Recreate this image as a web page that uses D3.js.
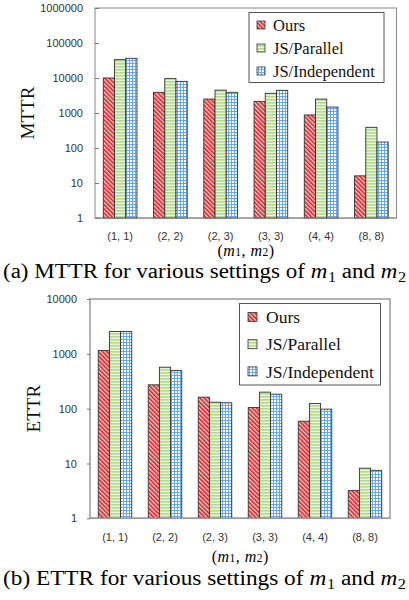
<!DOCTYPE html>
<html><head><meta charset="utf-8">
<script src="https://cdn.jsdelivr.net/npm/d3@7"></script>
<style>
html,body{margin:0;padding:0;background:#fff;}
svg{display:block;}
.serif{font-family:"Liberation Serif","Times New Roman",serif;}
.sans{font-family:"Liberation Sans",Arial,sans-serif;}
</style></head>
<body>
<svg id="c" width="409" height="600"></svg>
<script>
const categories = ["(1, 1)", "(2, 2)", "(2, 3)", "(3, 3)", "(4, 4)", "(8, 8)"];
const seriesNames = ["Ours", "JS/Parallel", "JS/Independent"];
const mttrOurs = [10000, 3900, 2500, 2150, 880, 16];
const mttrParallel = [33500, 9600, 4500, 3650, 2500, 390];
const mttrIndependent = [36500, 8000, 3900, 4450, 1480, 148];
const ettrOurs = [1150, 272, 162, 105, 59, 3.2];
const ettrParallel = [2550, 570, 131, 200, 124, 8.2];
const ettrIndependent = [2550, 495, 128, 184, 98, 7.5];
const mttrTicks = [1, 10, 100, 1000, 10000, 100000, 1000000];
const ettrTicks = [1, 10, 100, 1000, 10000];

const svg = d3.select("#c");
const defs = svg.append("defs");
const pr = defs.append("pattern").attr("id","pRed").attr("patternUnits","userSpaceOnUse")
  .attr("width",3).attr("height",3).attr("patternTransform","rotate(-45)");
pr.append("rect").attr("width",3).attr("height",3).attr("fill","#f7d4d4");
pr.append("rect").attr("width",1.7).attr("height",3).attr("fill","#d9252b");
const pg = defs.append("pattern").attr("id","pGreen").attr("patternUnits","userSpaceOnUse")
  .attr("width",3).attr("height",3);
pg.append("rect").attr("width",3).attr("height",3).attr("fill","#e9f4dc");
pg.append("rect").attr("width",3).attr("height",1.6).attr("fill","#b5d98a");
const pb = defs.append("pattern").attr("id","pBlue").attr("patternUnits","userSpaceOnUse")
  .attr("width",3).attr("height",3);
pb.append("rect").attr("width",3).attr("height",3).attr("fill","#ffffff");
pb.append("rect").attr("width",3).attr("height",1).attr("fill","#63a8f2");
pb.append("rect").attr("width",1).attr("height",3).attr("fill","#63a8f2");
const fills = ["url(#pRed)","url(#pGreen)","url(#pBlue)"];

// one text element, tspans at explicit measured x positions; p.after = gap after piece
function seqText(g, pieces, x0, y, anchor) {
  const widths = pieces.map(p => {
    const t = g.append("text").attr("class","serif").attr("font-size", p.size)
      .attr("font-style", p.italic ? "italic" : "normal").text(p.t);
    const w = t.node().getComputedTextLength();
    t.remove();
    return w;
  });
  const total = d3.sum(widths) + d3.sum(pieces.slice(0,-1), p => p.after||0);
  let x = anchor === "middle" ? x0 - total/2 : x0;
  const text = g.append("text").attr("class","serif").attr("fill","#000");
  pieces.forEach((p,i)=>{
    text.append("tspan").attr("x", x).attr("y", y + (p.dy||0))
      .attr("font-size", p.size).attr("font-style", p.italic ? "italic" : "normal").text(p.t);
    x += widths[i] + (p.after||0);
  });
  return total;
}

function chart(cfg) {
  const g = svg.append("g");
  const x = d3.scaleBand().domain(categories).range([cfg.x0, cfg.x1]).paddingInner(0.33).paddingOuter(0.165);
  const xs = d3.scaleBand().domain(seriesNames).range([0, x.bandwidth()]);
  const y = d3.scaleLog().domain(cfg.domain).range([cfg.yb, cfg.yt]);
  g.append("rect").attr("x",cfg.x0).attr("y",cfg.yt).attr("width",cfg.x1-cfg.x0).attr("height",cfg.yb-cfg.yt)
    .attr("fill","none").attr("stroke",cfg.frame).attr("stroke-width",cfg.frameW);
  const ya = g.append("g").attr("transform",`translate(${cfg.x0},0)`)
    .call(d3.axisLeft(y).tickValues(cfg.ticks).tickFormat(d3.format("d")).tickSize(cfg.tickIn).tickPadding(cfg.tickPad));
  ya.select(".domain").remove();
  ya.selectAll(".tick line").attr("stroke","#777");
  ya.selectAll(".tick text").attr("class","sans").attr("font-family",null).attr("font-size",11).attr("fill","#333");
  cfg.series.forEach((vals, si) => {
    g.selectAll(null).data(vals).enter().append("rect")
      .attr("x",(d,i)=>x(categories[i])+xs(seriesNames[si]))
      .attr("width",xs.bandwidth())
      .attr("y",d=>y(d))
      .attr("height",d=>cfg.yb-y(d))
      .attr("fill",fills[si]).attr("stroke","#333").attr("stroke-width",0.9);
  });
  g.append("line").attr("x1",cfg.x0).attr("x2",cfg.x1).attr("y1",cfg.yb).attr("y2",cfg.yb)
    .attr("stroke",cfg.frame).attr("stroke-width",cfg.frameW);
  const xa = g.append("g").attr("transform",`translate(0,${cfg.yb})`)
    .call(d3.axisBottom(x).tickSize(0).tickPadding(cfg.xPad));
  xa.select(".domain").remove();
  xa.selectAll(".tick text").attr("class","sans").attr("font-family",null).attr("font-size",11).attr("fill","#333");
  g.append("text").attr("class","serif").attr("transform",`translate(${cfg.titleX},${(cfg.yt+cfg.yb)/2}) rotate(-90)`)
    .attr("text-anchor","middle").attr("dy","0.35em")
    .attr("font-size",cfg.titleSize).attr("fill","#111")
    .text(cfg.title);
  const fs = cfg.xTitleSize;
  seqText(g, [
    {t:"(", size:fs, after:0.5}, {t:"m", size:fs, italic:true, after:0.5}, {t:"1", size:fs*0.72, after:0.5},
    {t:",", size:fs, after:fs*0.3}, {t:"m", size:fs, italic:true, after:0.5}, {t:"2", size:fs*0.72, after:0.5},
    {t:")", size:fs}
  ], (cfg.x0+cfg.x1)/2, cfg.xTitleY, "middle");
  const L = cfg.legend;
  g.append("rect").attr("x",L.x).attr("y",L.y).attr("width",L.w).attr("height",L.h)
    .attr("fill","#fff").attr("stroke","#555").attr("stroke-width",1);
  seriesNames.forEach((s,i)=>{
    const cy = L.y + L.first + i*L.step;
    g.append("rect").attr("x",L.sx).attr("y",cy-L.sw/2).attr("width",L.sw).attr("height",L.sw)
      .attr("fill",fills[i]).attr("stroke","#333").attr("stroke-width",0.8);
    g.append("text").attr("class","serif").attr("x",L.tx).attr("y",cy).attr("dy","0.35em")
      .attr("font-size",L.fs).attr("fill","#111")
      .text(s);
  });
  const cg = g.append("g");
  const s = cfg.capSize, sp = s*0.25;
  const total = seqText(cg, [
    {t:cfg.capText + " for various settings of", size:s, after:sp},
    {t:"m", size:s, italic:true, after:0.5},
    {t:"1", size:s*0.7, dy:s*0.22, after:sp},
    {t:"and", size:s, after:sp},
    {t:"m", size:s, italic:true, after:0.5},
    {t:"2", size:s*0.7, dy:s*0.22}
  ], cfg.capX, cfg.capY, "start");
  cg.attr("transform",`translate(${cfg.capX},0) scale(${cfg.capW/total},1) translate(${-cfg.capX},0)`);
}

chart({x0:95, x1:396.5, yt:8, yb:218, domain:[1,1e6], ticks:mttrTicks, tickIn:-4, tickPad:12,
  frame:"#888", frameW:1, series:[mttrOurs,mttrParallel,mttrIndependent],
  xPad:14, title:"MTTR", titleX:27, titleSize:19, xTitleY:256, xTitleSize:16,
  legend:{x:249, y:12.5, w:135, h:70, first:12.5, step:23, sx:257, sw:8, tx:273, fs:16.5},
  capText:"(a) MTTR", capX:3, capY:278, capSize:20, capW:403});

chart({x0:90, x1:390, yt:299, yb:518.3, domain:[1,1e4], ticks:ettrTicks, tickIn:3, tickPad:10,
  frame:"#999", frameW:1.5, series:[ettrOurs,ettrParallel,ettrIndependent],
  xPad:15, title:"ETTR", titleX:33, titleSize:19, xTitleY:562, xTitleSize:16,
  legend:{x:239.5, y:303.5, w:141, h:81.5, first:13.5, step:27.2, sx:248, sw:9, tx:266, fs:17.5},
  capText:"(b) ETTR", capX:3, capY:585, capSize:20, capW:403});
</script>
</body></html>
